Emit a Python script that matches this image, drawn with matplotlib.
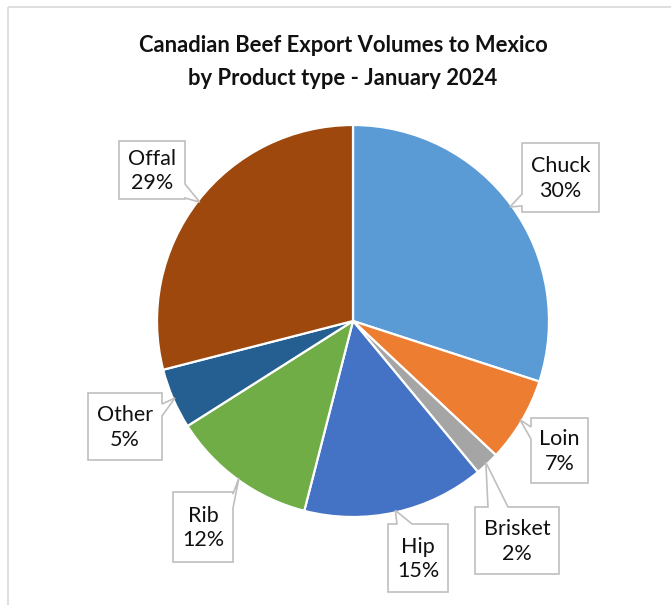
import numpy as np
import matplotlib.pyplot as plt
from matplotlib.patches import Polygon, Rectangle

# data (percent of volume)
products = ["Chuck", "Loin", "Brisket", "Hip", "Rib", "Other", "Offal"]
shares = [30, 7, 2, 15, 12, 5, 29]
colors = ["#5B9BD5", "#ED7D31", "#A5A5A5", "#4472C4", "#70AD47", "#255E91", "#9E480E"]

W, H = 671, 605
# callout boxes in pixels (x0, y0, x1, y1), side of tail, tail base span
boxes = {
    "Chuck": ((522, 143, 599, 212), "left", (194, 206)),
    "Loin": ((531, 418, 588, 483), "left", (427, 439)),
    "Brisket": ((475, 507, 559, 574), "top", (488, 508)),
    "Hip": ((388, 524, 448, 592), "top", (397, 412)),
    "Rib": ((173, 492, 233, 562), "right", (494, 508)),
    "Other": ((88, 393, 162, 460), "right", (404, 416)),
    "Offal": ((119, 141, 185, 199), "right", (184, 198)),
}

plt.rcParams['font.family'] = ['Lato', 'DejaVu Sans']
fig = plt.figure(figsize=(W / 100, H / 100), dpi=100)
ax = fig.add_axes([0, 0, 1, 1])

# outer chart frame
ax.add_patch(Rectangle((8, 7), W, H, fill=False, ec="#D9D9D9", lw=1.2))

cx, cy, r = 353, 321, 196
# y axis is inverted, so angles are mirrored
wedges, _ = ax.pie(shares, colors=colors, startangle=-90, counterclock=True,
                   center=(cx, cy), radius=r, frame=True,
                   wedgeprops=dict(edgecolor="white", linewidth=1.6))
ax.set_xlim(0, W)
ax.set_ylim(H, 0)
ax.set_aspect('equal')
ax.axis('off')


def callout(box, side, span, tip):
    x0, y0, x1, y1 = box
    a, b = span
    pts = [(x0, y0)]
    if side == "top":
        pts += [(a, y0), tip, (b, y0)]
    pts += [(x1, y0)]
    if side == "right":
        pts += [(x1, a), tip, (x1, b)]
    pts += [(x1, y1), (x0, y1)]
    if side == "left":
        pts += [(x0, b), tip, (x0, a)]
    return Polygon(pts, closed=True, fc="white", ec="#BFBFBF", lw=1.2, zorder=5)


for w, name, val in zip(wedges, products, shares):
    mid = np.deg2rad((w.theta1 + w.theta2) / 2)
    tip = (cx + r * 0.99 * np.cos(mid), cy + r * 0.99 * np.sin(mid))
    box, side, span = boxes[name]
    ax.add_patch(callout(box, side, span, tip))
    ax.text((box[0] + box[2]) / 2, (box[1] + box[3]) / 2 + 1, f"{name}\n{val}%",
            ha="center", va="center", fontsize=15.5, linespacing=1.3,
            color="#111111", zorder=6)

ax.text(343, 62, "Canadian Beef Export Volumes to Mexico\nby Product type - January 2024",
        ha="center", va="center", fontsize=15.8, fontweight="bold",
        linespacing=1.65, color="#111111")

fig.savefig("out.png", dpi=100)
